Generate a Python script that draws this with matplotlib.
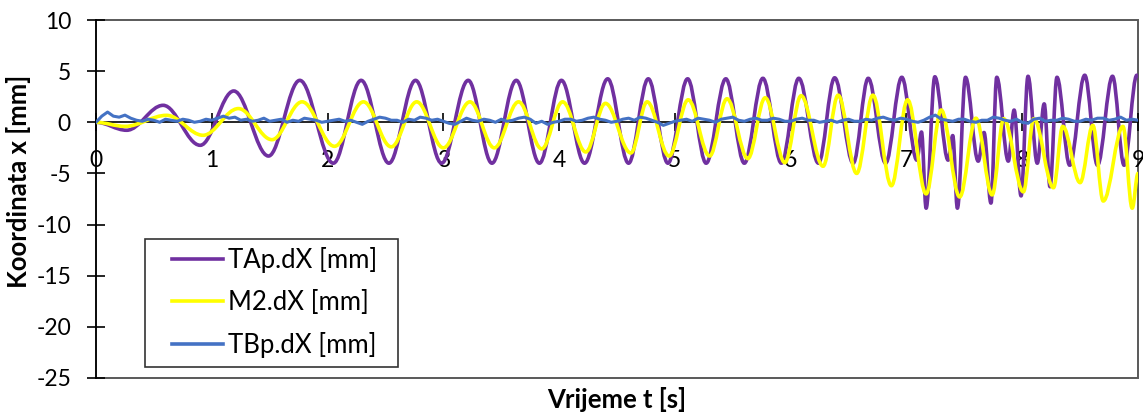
import numpy as np
import matplotlib.pyplot as plt
from matplotlib.path import Path
from matplotlib.patches import PathPatch, Rectangle
from matplotlib.lines import Line2D
from matplotlib.legend_handler import HandlerLine2D

plt.rcParams['font.family'] = ['Lato', 'DejaVu Sans']
plt.rcParams['axes.unicode_minus'] = False

# TAp.dX - turning points (time [s], value [mm])
tap_t = [0.0, 0.265, 0.58, 0.90, 1.19, 1.49, 1.76, 2.05, 2.29, 2.53, 2.76, 2.985,
         3.215, 3.42, 3.63, 3.83, 4.02, 4.22, 4.42, 4.60, 4.77, 4.94, 5.11, 5.27,
         5.44, 5.60, 5.76, 5.92, 6.07, 6.24, 6.38, 6.54, 6.67, 6.82, 6.96,
         7.09, 7.13, 7.17, 7.245, 7.36, 7.40, 7.44, 7.51, 7.62, 7.67, 7.73, 7.78,
         7.88, 7.93, 7.99, 8.05, 8.13, 8.19, 8.24, 8.30, 8.41, 8.54, 8.65, 8.78,
         8.88, 8.99, 9.0]
tap_v = [0.0, -0.78, 1.66, -2.25, 3.06, -3.3, 4.1, -4.0, 4.1, -4.0, 4.1, -4.0,
         4.1, -4.0, 4.1, -4.0, 4.1, -4.0, 4.25, -4.0, 4.25, -4.0, 4.25, -4.0,
         4.25, -4.0, 4.3, -4.0, 4.3, -4.0, 4.35, -4.0, 4.3, -4.0, 4.4,
         -3.7, -0.95, -8.4, 4.45, -3.7, -1.3, -8.4, 4.4, -3.8, -1.0, -7.9, 4.4,
         -3.8, 1.2, -7.2, 4.5, -4.0, 1.8, -6.3, 4.4, -4.2, 4.6, -4.2, 4.5,
         -4.2, 4.6, 4.5]

# M2.dX
m2_t = [0.0, 0.25, 0.61, 0.925, 1.23, 1.52, 1.78, 2.06, 2.31, 2.55, 2.77, 3.0,
        3.23, 3.44, 3.65, 3.85, 4.03, 4.23, 4.40, 4.62, 4.76, 4.95, 5.115, 5.30,
        5.45, 5.63, 5.78, 5.95, 6.09, 6.28, 6.41, 6.57, 6.71, 6.87, 7.01, 7.17,
        7.30, 7.46, 7.60, 7.74, 7.84, 8.01, 8.10, 8.27, 8.35, 8.50, 8.61, 8.70,
        8.87, 8.95, 9.0]
m2_v = [0.0, -0.4, 0.68, -1.27, 1.34, -1.7, 2.0, -2.35, 2.0, -2.4, 2.0, -2.5,
        2.0, -2.5, 2.0, -2.6, 2.0, -2.9, 1.85, -3.0, 2.0, -3.3, 2.2, -3.3,
        2.3, -3.55, 2.4, -3.95, 2.6, -4.3, 2.65, -5.0, 2.65, -6.2, 2.2, -7.0,
        1.2, -7.3, 0.4, -7.1, 0.35, -6.8, 0.35, -6.4, -0.4, -5.9, -0.3, -7.7,
        -0.4, -8.4, -5.0]

# TBp.dX - sampled every 0.05 s
tbp_v = [0.0, 0.6, 1.0, 0.6, 0.5, 0.7, 0.4, 0.2, 0.1, 0.3,
         0.2, 0.0, 0.3, 0.2, 0.1, 0.3, 0.2, 0.0, 0.1, 0.3,
         0.2, 0.4, 0.6, 0.4, 0.5, 0.2, 0.3, 0.1, 0.2, 0.4,
         0.1, 0.2, 0.3, 0.0, 0.2, 0.1, 0.4, 0.3, 0.2, 0.0,
         0.1, 0.2, 0.3, 0.1, 0.2, 0.0, -0.2, 0.1, 0.3, 0.5,
         0.4, 0.2, 0.2, 0.0, 0.3, 0.2, 0.5, 0.4, 0.2, 0.3,
         0.1, -0.1, -0.2, 0.1, 0.4, 0.2, 0.1, 0.3, 0.2, 0.0,
         0.3, 0.1, 0.2, 0.4, 0.5, 0.3, -0.1, 0.1, -0.2, 0.0,
         0.1, 0.3, 0.3, 0.1, 0.2, 0.4, 0.5, 0.3, 0.2, 0.0,
         0.1, 0.3, 0.4, 0.2, 0.5, 0.4, 0.2, 0.0, -0.3, -0.1,
         0.1, 0.2, 0.3, 0.1, 0.4, 0.3, 0.2, 0.0, 0.3, 0.4,
         0.5, 0.2, 0.1, 0.3, 0.4, 0.2, 0.2, 0.4, 0.3, 0.1,
         0.1, 0.3, 0.4, 0.2, 0.2, 0.0, 0.1, 0.2, 0.0, 0.2,
         0.3, 0.1, 0.1, 0.3, 0.2, 0.4, 0.5, 0.3, 0.2, 0.4,
         0.3, 0.1, 0.0, 0.2, 0.5, 0.7, 0.3, 0.2, 0.1, 0.3,
         0.3, 0.1, 0.0, 0.2, 0.2, 0.5, 0.4, 0.2, 0.1, 0.3,
         0.0, -0.1, 0.3, 0.4, 0.1, 0.2, 0.2, 0.4, 0.3, 0.1,
         0.1, 0.3, 0.2, 0.4, 0.4, 0.2, 0.3, 0.5, 0.2, 0.3,
         0.2]
tbp_t = np.arange(len(tbp_v)) * 0.05

labels = ['TAp.dX [mm]', 'M2.dX [mm]', 'TBp.dX [mm]']
colors = ['#7030A0', '#FFFF00', '#4472C4']


def smooth_path(t, v, k=0.36):
    # cubic bezier between turning points, flat tangent at each one
    verts = [(t[0], v[0])]
    codes = [Path.MOVETO]
    for i in range(1, len(t)):
        dt = t[i] - t[i - 1]
        verts += [(t[i - 1] + k * dt, v[i - 1]), (t[i] - k * dt, v[i]), (t[i], v[i])]
        codes += [Path.CURVE4] * 3
    return Path(verts, codes)


fig = plt.figure(figsize=(11.43, 4.12), dpi=100)
ax = fig.add_axes([96 / 1143, 34 / 412, 1042 / 1143, 358 / 412])

ax.add_patch(PathPatch(smooth_path(tap_t, tap_v), fill=False, ec=colors[0], lw=2.6,
                       capstyle='round', joinstyle='round', zorder=3))
ax.add_patch(PathPatch(smooth_path(m2_t, m2_v), fill=False, ec=colors[1], lw=2.6,
                       capstyle='round', joinstyle='round', zorder=4))
ax.plot(tbp_t, tbp_v, color=colors[2], lw=2.2, zorder=5)

ax.set_xlim(0, 9)
ax.set_ylim(-25, 10)
ax.set_xticks(range(0, 10))
ax.set_yticks(range(-25, 11, 5))

for s in ['top', 'right']:
    ax.spines[s].set_visible(False)
ax.spines['bottom'].set_position(('data', 0))
ax.spines['bottom'].set_color('black')
ax.spines['bottom'].set_linewidth(1.2)
ax.spines['left'].set_color('black')
ax.spines['left'].set_linewidth(1.2)
ax.add_patch(Rectangle((0, 0), 1, 1, transform=ax.transAxes, fill=False,
                       ec='#595959', lw=1.4, clip_on=False, zorder=1))

ax.tick_params(axis='both', direction='inout', length=13, width=1.2, labelsize=16.5)
ax.tick_params(axis='x', pad=13.5)
ax.tick_params(axis='y', pad=11.5)

ax.set_xlabel('Vrijeme t [s]', fontsize=18.5, fontweight='bold')
ax.xaxis.set_label_coords(0.5, -0.025)
ax.set_ylabel('Koordinata x [mm]', fontsize=18.5, fontweight='bold')
ax.yaxis.set_label_coords(-0.062, 0.55)

handles = [Line2D([], [], color=c, lw=2.6) for c in colors]
leg = ax.legend(handles, labels, loc='lower left',
                bbox_to_anchor=(0.047, 0.031, 0.243, 0.363), mode='expand',
                borderaxespad=0, fontsize=18.5, frameon=True, fancybox=False,
                edgecolor='black', handlelength=2.72, handletextpad=0.2,
                labelspacing=0.67, borderpad=0.33,
                handler_map={Line2D: HandlerLine2D(xpad=0.74)})
leg.get_frame().set_linewidth(1.2)
leg.set_zorder(10)

fig.savefig('out.png', dpi=100)
